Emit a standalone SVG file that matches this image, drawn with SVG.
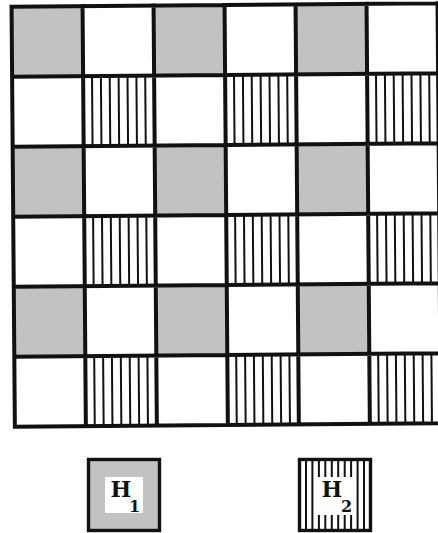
<svg xmlns="http://www.w3.org/2000/svg" width="438" height="533" viewBox="0 0 438 533">
<style>
.gray{fill:#c2c2c2;stroke:none}
.grid{stroke:#111;stroke-width:4;fill:none;stroke-linecap:square}
.hl{stroke:#111;stroke-width:2;fill:none}
.box{stroke:#111;stroke-width:3.4}
.lbl{font-family:"DejaVu Serif","Liberation Serif",serif;font-weight:bold;fill:#111}
</style>
<defs>
<rect id="g" class="gray" width="71" height="70"/>
<path id="h" class="hl" d="M8.9 0V70M17.8 0V70M26.6 0V70M35.5 0V70M44.4 0V70M53.3 0V70M62.1 0V70"/>
</defs>
<rect width="438" height="533" fill="#fff"/>
<g id="board" transform="rotate(-0.45 225 215)">
<g id="gray-cells">
<use href="#g" x="13.2" y="5"/><use href="#g" x="155.2" y="5"/><use href="#g" x="297.2" y="5"/>
<use href="#g" x="13.2" y="145"/><use href="#g" x="155.2" y="145"/><use href="#g" x="297.2" y="145"/>
<use href="#g" x="13.2" y="285"/><use href="#g" x="155.2" y="285"/><use href="#g" x="297.2" y="285"/>
</g>
<g id="hatched-cells">
<use href="#h" x="84.2" y="75"/><use href="#h" x="226.2" y="75"/><use href="#h" x="368.2" y="75"/>
<use href="#h" x="84.2" y="215"/><use href="#h" x="226.2" y="215"/><use href="#h" x="368.2" y="215"/>
<use href="#h" x="84.2" y="355"/><use href="#h" x="226.2" y="355"/><use href="#h" x="368.2" y="355"/>
</g>
<path class="grid" d="M13.2 5V425M84.2 5V425M155.2 5V425M226.2 5V425M297.2 5V425M368.2 5V425M439.2 5V425M13.2 5H439.2M13.2 75H439.2M13.2 145H439.2M13.2 215H439.2M13.2 285H439.2M13.2 355H439.2M13.2 425H439.2"/>
</g>
<g id="legend-H1">
<rect class="box gray" x="88.5" y="459.5" width="71" height="71" style="stroke:#111;stroke-width:3.4"/>
<rect x="105" y="477" width="38" height="36" fill="#fff"/>
<text class="lbl" x="121" y="497" font-size="22" text-anchor="middle">H</text>
<text class="lbl" x="134.5" y="512" font-size="16" text-anchor="middle">1</text>
</g>
<g id="legend-H2">
<rect class="box" x="299.5" y="459.5" width="71" height="71" fill="#fff"/>
<path class="hl" d="M306 459.5V530.5M312.4 459.5V530.5M357.6 459.5V530.5M364 459.5V530.5M318.9 459.5V477M325.3 459.5V477M331.8 459.5V477M338.2 459.5V477M344.7 459.5V477M351.1 459.5V477M318.9 515V530.5M325.3 515V530.5M331.8 515V530.5M338.2 515V530.5M344.7 515V530.5M351.1 515V530.5"/>
<text class="lbl" x="332" y="497" font-size="22" text-anchor="middle">H</text>
<text class="lbl" x="346.5" y="512" font-size="16" text-anchor="middle">2</text>
</g>
</svg>
